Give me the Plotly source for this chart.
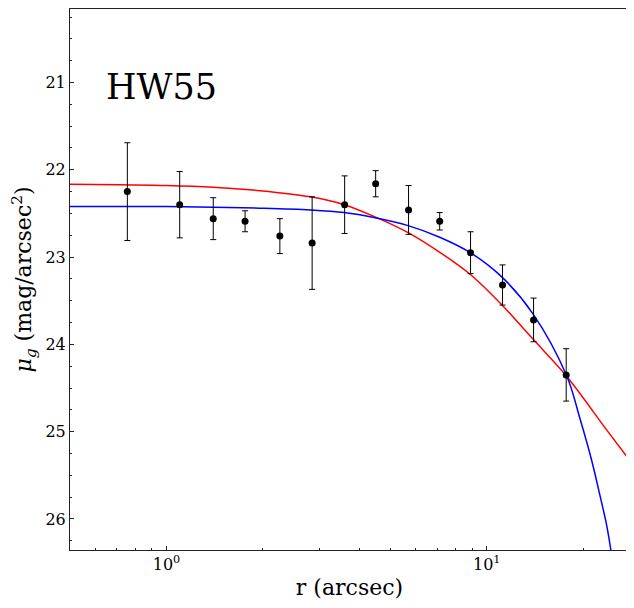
import numpy as np
import plotly.graph_objects as go

# measured surface-brightness profile
r_arcsec = [0.755, 1.10, 1.40, 1.76, 2.26, 2.85, 3.60, 4.50, 5.70, 7.13, 8.90, 11.2, 14.0, 17.7]
mu_g = [22.25, 22.40, 22.56, 22.59, 22.76, 22.84, 22.40, 22.16, 22.46, 22.59, 22.95, 23.32, 23.72, 24.35]
mu_err = [0.56, 0.38, 0.24, 0.12, 0.20, 0.53, 0.33, 0.15, 0.28, 0.10, 0.24, 0.23, 0.25, 0.30]

# model curves, sampled off the figure
red_r = [0.5, 0.71, 1.0, 1.40, 1.96, 2.81, 3.59, 4.48, 5.68, 7.10, 8.89, 11.16, 13.94, 17.7, 23.67, 27.8]
red_mu = [22.165, 22.172, 22.18, 22.20, 22.24, 22.31, 22.40, 22.54, 22.72, 22.94, 23.20, 23.55, 23.94, 24.36, 24.98, 25.32]
blue_r = [0.5, 0.71, 1.0, 1.40, 1.96, 2.81, 3.59, 4.48, 5.68, 7.10, 8.89, 11.16, 13.94, 17.76, 19.54, 21.26, 22.56, 23.67, 24.41]
blue_mu = [22.42, 22.42, 22.42, 22.43, 22.44, 22.46, 22.49, 22.55, 22.64, 22.77, 22.95, 23.23, 23.65, 24.36, 24.85, 25.33, 25.73, 26.07, 26.36]

FONT = "DejaVu Serif"

fig = go.Figure()
fig.add_trace(go.Scatter(x=red_r, y=red_mu, mode="lines", line=dict(color="red", width=1.5, shape="spline"),
                         showlegend=False))
fig.add_trace(go.Scatter(x=blue_r, y=blue_mu, mode="lines", line=dict(color="blue", width=1.5, shape="spline"),
                         showlegend=False))
fig.add_trace(go.Scatter(
    x=r_arcsec, y=mu_g, mode="markers",
    marker=dict(color="black", size=7),
    error_y=dict(type="data", array=mu_err, color="black", thickness=1, width=3),
    showlegend=False,
))

fig.add_annotation(x=0.061, y=0.856, xref="paper", yref="paper", text="HW55", showarrow=False,
                   xanchor="left", yanchor="middle", font=dict(family=FONT, size=35, color="black"))

axis_common = dict(showgrid=False, zeroline=False, showline=True, linecolor="#222", linewidth=1,
                   mirror=True, ticks="inside", tickcolor="#222", automargin=False,
                   tickfont=dict(family=FONT, size=16, color="black"))

# page body keeps its 8px default margin, so the figure is sized to fit inside the window
fig.update_layout(
    width=626, height=600, paper_bgcolor="white", plot_bgcolor="white",
    margin=dict(l=62, r=5, t=1, b=58),
    xaxis=dict(type="log", range=[np.log10(0.5), np.log10(27.8)],
               tickvals=[1, 10], ticktext=["10<sup>0</sup>", "10<sup>1</sup>"], ticklen=4,
               minor=dict(tickmode="array", tickvals=[0.6, 0.7, 0.8, 0.9, 2, 3, 4, 5, 6, 7, 8, 9, 20],
                          ticks="inside", ticklen=2, tickcolor="#222", showgrid=False),
               title=dict(text="r (arcsec)", font=dict(family=FONT, size=22, color="black"), standoff=6),
               **axis_common),
    yaxis=dict(range=[26.356, 20.158], tickvals=[21, 22, 23, 24, 25, 26], ticklen=4,
               minor=dict(dtick=0.25, ticks="inside", ticklen=2, tickcolor="#222", showgrid=False),
               title=dict(text="<i>μ</i><sub><i>g</i></sub> (mag/arcsec<sup>2</sup>)",
                          font=dict(family=FONT, size=22, color="black"), standoff=7),
               **axis_common),
)

fig.write_html("out.html")
